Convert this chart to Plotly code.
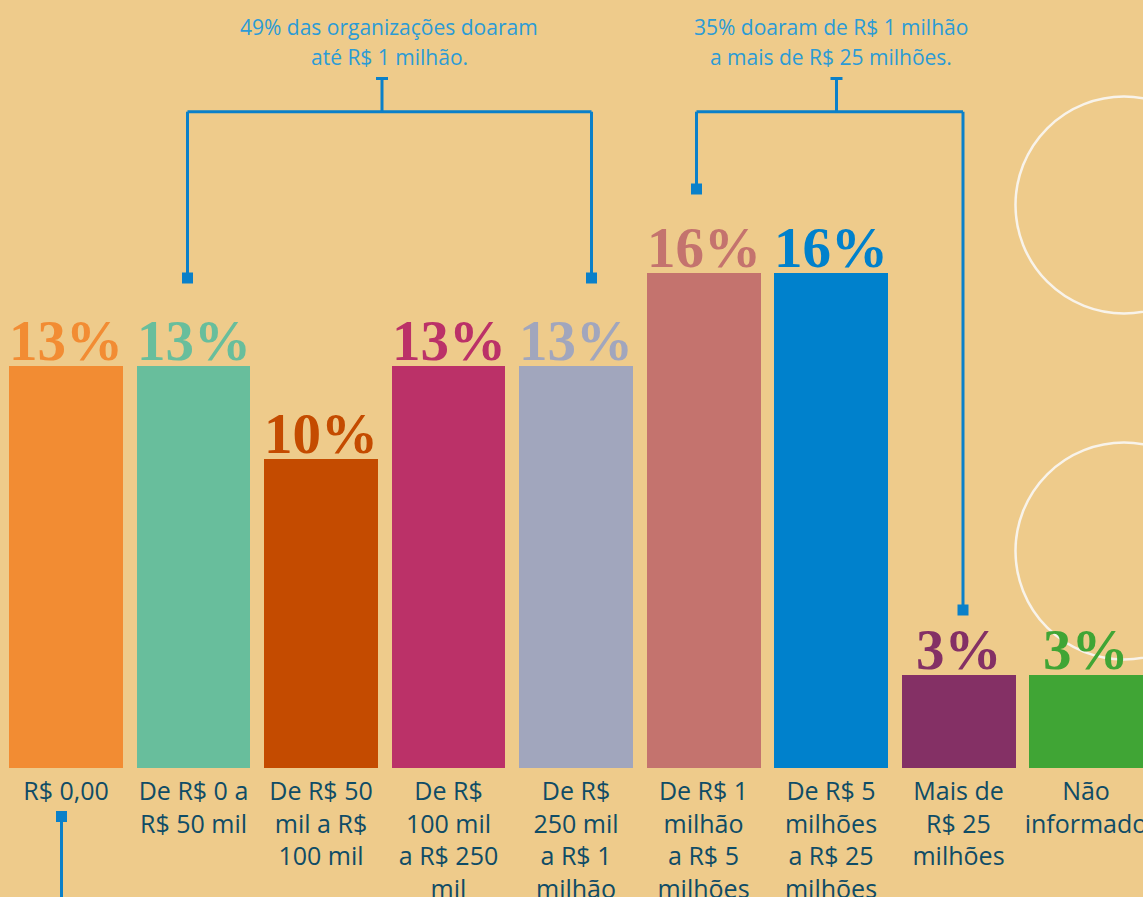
import plotly.graph_objects as go

# ---- data ----
categories = [
    "R$ 0,00",
    "De R$ 0 a<br>R$ 50 mil",
    "De R$ 50<br>mil a R$<br>100 mil",
    "De R$<br>100 mil<br>a R$ 250<br>mil",
    "De R$<br>250 mil<br>a R$ 1<br>milhão",
    "De R$ 1<br>milhão<br>a R$ 5<br>milhões",
    "De R$ 5<br>milhões<br>a R$ 25<br>milhões",
    "Mais de<br>R$ 25<br>milhões",
    "Não<br>informado",
]
values = [13, 13, 10, 13, 13, 16, 16, 3, 3]
bar_colors = ["#F28C33", "#68BE9C", "#C44B00", "#BB3168", "#A1A6BD",
              "#C4736E", "#0081CC", "#843065", "#40A535"]
note1_lines = ["49% das organizações doaram", "até R$ 1 milhão."]
note2_lines = ["35% doaram de R$ 1 milhão", "a mais de R$ 25 milhões."]

# ---- styling ----
BG = "#EECB8B"
LINE_BLUE = "#0A80C9"
NOTE_BLUE = "#2B9BD6"
LABEL_COLOR = "#0F4C66"
W, H = 1143, 897
BASE_PX = 768  # pixel row of bar baseline (plot bottom)
XLO, XHI = -0.5176, 8.447
YHI = 24.83

def px(x):  # pixel x -> paper x
    return x / W

def py(y):  # pixel y -> paper y
    return (BASE_PX - y) / BASE_PX

idx = list(range(len(values)))

fig = go.Figure()
fig.add_trace(go.Bar(
    x=idx, y=values, width=0.894,
    marker=dict(color=bar_colors, line=dict(width=0)),
    hoverinfo="skip",
))

annotations = []
for i, v in enumerate(values):
    annotations.append(dict(
        x=i, y=v, xref="x", yref="y", text=f"{v}%", showarrow=False,
        yanchor="bottom", yshift=-8,
        font=dict(family="Liberation Serif", size=57, color=bar_colors[i],
                  weight="bold"),
    ))

def note(lines, cx):
    out = []
    for k, t in enumerate(lines):
        out.append(dict(
            x=px(cx), y=py(34 + 30 * k), xref="paper", yref="paper",
            text=t, showarrow=False, xanchor="center", yanchor="bottom",
            yshift=-9,
            font=dict(family="Open Sans", size=21, color=NOTE_BLUE),
        ))
    return out

annotations += note(note1_lines, 389)
annotations += note(note2_lines, 831)

shapes = []
def seg(x0, y0, x1, y1):
    shapes.append(dict(type="line", xref="paper", yref="paper",
                       x0=px(x0), y0=py(y0), x1=px(x1), y1=py(y1),
                       line=dict(color=LINE_BLUE, width=3)))

def square(cx, cy, s=11):
    shapes.append(dict(type="rect", xref="paper", yref="paper",
                       x0=px(cx - s / 2), x1=px(cx + s / 2),
                       y0=py(cy - s / 2), y1=py(cy + s / 2),
                       fillcolor=LINE_BLUE, line=dict(width=0)))

def bracket(xl, yl, xr, yr, xm, ytop=111.7, ycap=78.5):
    seg(xl, yl, xl, ytop)
    seg(xl, ytop, xr, ytop)
    seg(xr, ytop, xr, yr)
    seg(xm, ytop, xm, ycap)
    seg(xm - 6, ycap, xm + 6, ycap)
    square(xl, yl)
    square(xr, yr)

bracket(187.5, 278, 591.5, 278, 382)
bracket(696.5, 189, 963, 610, 836.5)
# bottom pointer
seg(61.5, 816, 61.5, 900)
square(61.5, 816.5)

# decorative circles
for (cx, cy) in [(1124, 205), (1124, 551)]:
    r = 108.5
    shapes.append(dict(type="circle", xref="paper", yref="paper", layer="below",
                       x0=px(cx - r), x1=px(cx + r), y0=py(cy + r), y1=py(cy - r),
                       line=dict(color="#F8F3EA", width=2.5)))

fig.update_layout(
    width=W, height=H,
    margin=dict(l=0, r=0, t=0, b=H - BASE_PX, pad=0),
    paper_bgcolor=BG, plot_bgcolor=BG,
    showlegend=False,
    annotations=annotations,
    shapes=shapes,
    bargap=0,
    xaxis=dict(range=[XLO, XHI], tickmode="array", tickvals=idx, ticktext=categories,
               showgrid=False, zeroline=False, showline=False,
               ticks="outside", ticklen=1, tickcolor=BG, automargin=False,
               ticklabeloverflow="allow",
               tickfont=dict(family="Open Sans", size=25, color=LABEL_COLOR),
               fixedrange=True),
    yaxis=dict(range=[0, YHI], visible=False, fixedrange=True),
)

fig.write_html("out.html", config={"displayModeBar": False})

# remove the default page margin so the figure sits at the window's corner
with open("out.html", encoding="utf-8") as f:
    html = f.read()
html = html.replace("<head>", "<head><style>html,body{margin:0;padding:0;overflow:hidden;}</style>", 1)
with open("out.html", "w", encoding="utf-8") as f:
    f.write(html)
